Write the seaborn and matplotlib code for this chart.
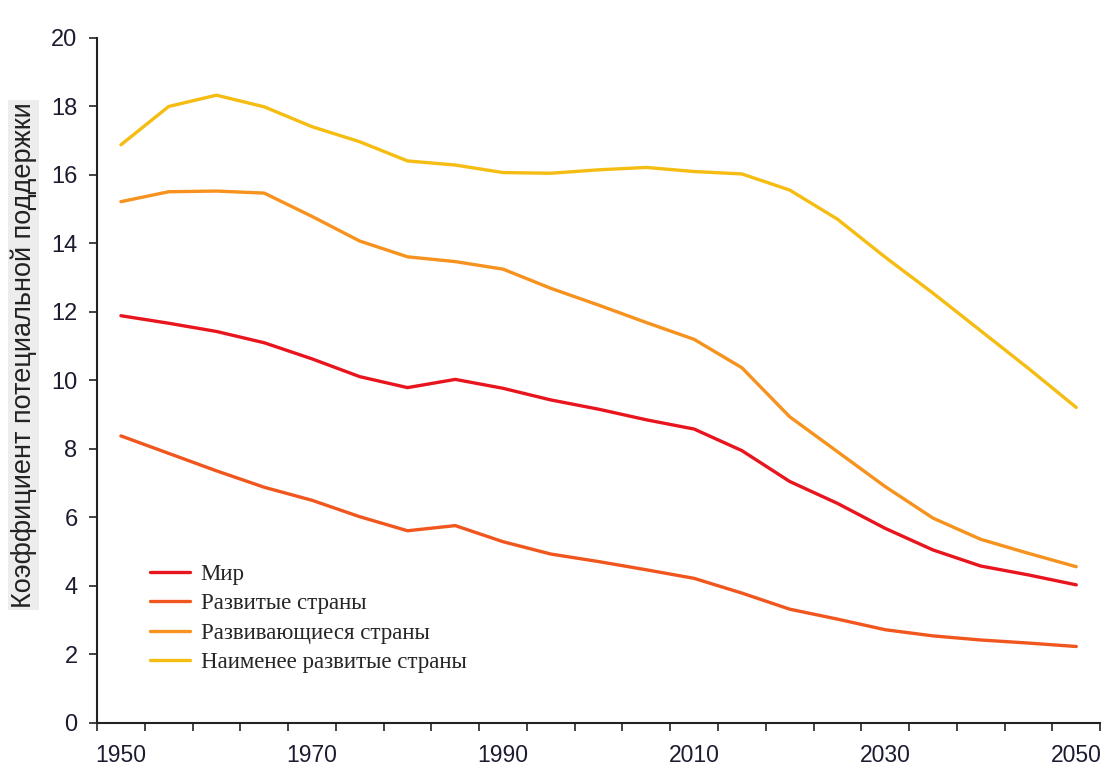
import matplotlib

matplotlib.use("Agg", force=True)
import numpy as np  # noqa: E402
import pandas as pd  # noqa: E402
import seaborn as sns  # noqa: E402
from matplotlib import pyplot as plt  # noqa: E402

YEARS = list(range(1950, 2051, 5))

WORLD = [11.89, 11.67, 11.43, 11.10, 10.63, 10.11, 9.79, 10.03, 9.77, 9.43, 9.16,
         8.85, 8.58, 7.95, 7.05, 6.41, 5.68, 5.05, 4.58, 4.32, 4.03]
DEVELOPED = [8.38, 7.87, 7.36, 6.88, 6.50, 6.02, 5.61, 5.76, 5.29, 4.93, 4.71,
             4.47, 4.22, 3.79, 3.32, 3.03, 2.72, 2.54, 2.42, 2.33, 2.23]
DEVELOPING = [15.22, 15.51, 15.53, 15.47, 14.79, 14.07, 13.61, 13.47, 13.25, 12.69, 12.20,
              11.69, 11.20, 10.37, 8.94, 7.92, 6.90, 5.98, 5.36, 4.95, 4.56]
LEAST_DEVELOPED = [16.88, 18.00, 18.33, 17.99, 17.41, 16.97, 16.41, 16.29, 16.07, 16.05, 16.15,
                   16.22, 16.10, 16.03, 15.56, 14.71, 13.60, 12.55, 11.45, 10.35, 9.21]

SERIES_NAMES = ["Мир", "Развитые страны", "Развивающиеся страны", "Наименее развитые страны"]
SERIES_COLORS = ["#E8141E", "#F0561E", "#F7921E", "#F5BC12"]
X_LABELS = [1950, 1970, 1990, 2010, 2030, 2050]
Y_TICKS = list(range(0, 21, 2))

frame = pd.DataFrame({
    "year": YEARS * 4,
    "value": WORLD + DEVELOPED + DEVELOPING + LEAST_DEVELOPED,
    "series": np.repeat(SERIES_NAMES, len(YEARS)),
})

sns.set_style("ticks")
plt.rcParams["font.family"] = ["Liberation Sans", "DejaVu Sans"]

fig = plt.figure(figsize=(11.09, 7.69), dpi=100)
ax = fig.add_axes([0.0875, 0.06, 0.9045, 0.8906])

sns.lineplot(
    data=frame,
    x="year",
    y="value",
    hue="series",
    hue_order=SERIES_NAMES,
    palette=dict(zip(SERIES_NAMES, SERIES_COLORS)),
    linewidth=2.4,
    ax=ax,
)

ax.set_xlim(1947.5, 2052.5)
ax.set_ylim(0, 20)
ax.set_yticks(Y_TICKS)
ax.set_yticklabels([str(v) for v in Y_TICKS], fontsize=17, color="#1c1c30")

# category-style axis: tick marks between years, labels under the years
ax.set_xticks(np.arange(1947.5, 2053, 5))
ax.set_xticklabels([])
ax.set_xticks(X_LABELS, minor=True)
ax.set_xticklabels([str(v) for v in X_LABELS], minor=True, fontsize=16.5,
                   color="#1c1c30")
ax.tick_params(axis="x", which="minor", length=0, pad=15)
ax.tick_params(axis="y", which="major", pad=8)
ax.tick_params(axis="both", which="major", length=6, width=1.2, color="#222222")

for side in ("top", "right"):
    ax.spines[side].set_visible(False)
for side in ("left", "bottom"):
    ax.spines[side].set_linewidth(1.5)
    ax.spines[side].set_color("#222222")

ax.set_xlabel("")
ax.set_ylabel("")
fig.text(0.021, 0.538, "Коэффициент потециальной поддержки", rotation=90,
         ha="center", va="center", fontsize=19.5, color="#222222",
         bbox=dict(facecolor="#EDEDED", edgecolor="none", pad=1.5))

handles, labels = ax.get_legend_handles_labels()
ax.legend(
    handles,
    labels,
    loc="upper left",
    bbox_to_anchor=(0.053, 0.232),
    frameon=False,
    handlelength=1.75,
    handletextpad=0.45,
    labelspacing=0.36,
    borderpad=0,
    borderaxespad=0,
    prop={"family": ["Liberation Serif", "DejaVu Serif"], "size": 16.5},
)

fig.savefig("out.png", dpi=100)
plt.close(fig)
